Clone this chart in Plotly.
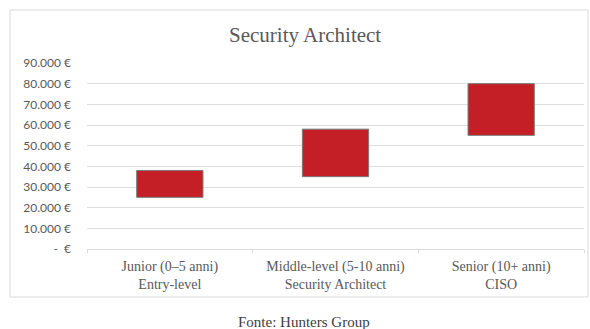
import plotly.graph_objects as go

categories = ["Junior (0–5 anni)<br>Entry-level",
              "Middle-level (5-10 anni)<br>Security Architect",
              "Senior (10+ anni)<br>CISO"]
salary_min = [25000, 35000, 55000]
salary_max = [38000, 58000, 80000]
tick_values = [0, 10000, 20000, 30000, 40000, 50000, 60000, 70000, 80000, 90000]
tick_labels = ["-  €", "10.000 €", "20.000 €", "30.000 €", "40.000 €", "50.000 €",
               "60.000 €", "70.000 €", "80.000 €", "90.000 €"]
title_text = "Security Architect"
source_text = "Fonte: Hunters Group"

W, H = 590, 329
L, R, T, B = 87, 6, 63, 80
pw = W - L - R
ph = H - T - B

def px_x(px):
    return (px - L) / pw

def px_y(py):
    return (H - B - py) / ph

fig = go.Figure()
fig.add_trace(go.Bar(
    x=categories,
    y=[mx - mn for mn, mx in zip(salary_min, salary_max)],
    base=salary_min,
    width=0.4,
    marker=dict(color="#C41E26", line=dict(color="#7a7a7a", width=1)),
    hoverinfo="skip",
))

fig.update_layout(
    width=W, height=H,
    margin=dict(l=L, r=R, t=T, b=B),
    paper_bgcolor="white", plot_bgcolor="white",
    showlegend=False,
    bargap=0.6,
    xaxis=dict(
        type="category",
        tickson="boundaries",
        ticks="outside", ticklen=3, tickcolor="#d9d9d9",
        showline=True, linecolor="#d9d9d9", linewidth=1,
        showgrid=False,
        ticklabelstandoff=4,
        tickfont=dict(family="Liberation Serif", size=14, color="#595959"),
    ),
    yaxis=dict(
        range=[0, 90000],
        tickvals=tick_values, ticktext=tick_labels,
        showgrid=True, gridcolor="#dedede", gridwidth=1,
        zeroline=False,
        ticks="", ticklabelstandoff=15,
        tickfont=dict(family="Lato", size=12, color="#595959"),
    ),
    shapes=[dict(
        type="rect", xref="paper", yref="paper",
        x0=px_x(10), x1=px_x(588), y0=px_y(297), y1=px_y(10),
        line=dict(color="#d9d9d9", width=1), fillcolor="rgba(0,0,0,0)",
        layer="below",
    )],
    annotations=[
        dict(text=title_text, xref="paper", yref="paper",
             x=px_x(305), y=px_y(35), xanchor="center", yanchor="middle",
             showarrow=False,
             font=dict(family="Liberation Serif", size=21, color="#595959")),
        dict(text=source_text, xref="paper", yref="paper",
             x=px_x(304), y=px_y(322), xanchor="center", yanchor="middle",
             showarrow=False,
             font=dict(family="Liberation Serif", size=15, color="#404040")),
    ],
)

fig.write_html("out.html")
